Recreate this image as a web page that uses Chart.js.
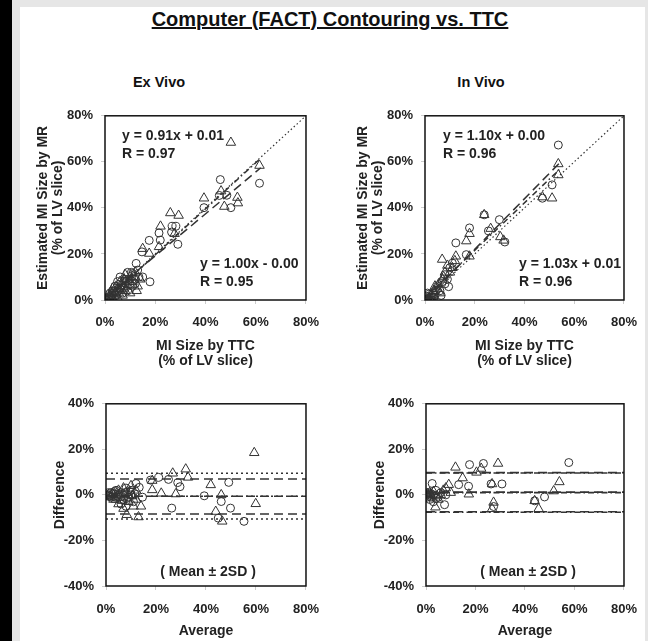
<!DOCTYPE html>
<html>
<head>
<meta charset="utf-8">
<script src="https://cdn.jsdelivr.net/npm/chart.js@4.4.1/dist/chart.umd.min.js"></script>
<style>
    body { margin: 0; width: 648px; height: 641px; background: #e6e6e6; position: relative; overflow: hidden;
           font-family: "Liberation Sans", Arial, sans-serif; }
    #edge { position: absolute; left: 0; top: 0; width: 12px; height: 641px; background: #000; }
    #sheet { position: absolute; left: 20px; top: 7px; width: 625px; height: 634px; background: #fff; }
    canvas { position: absolute; }
    .head { position: absolute; font-weight: bold; color: #111; white-space: nowrap; transform: translateX(-50%); }
    #title { left: 330px; top: 8px; font-size: 20px; text-decoration: underline; }
    #exHead { left: 159px; top: 74px; font-size: 14.5px; }
    #inHead { left: 481px; top: 74px; font-size: 14.5px; }
</style>
</head>
<body>
<div id="edge"></div>
<div id="sheet"></div>
<div class="head" id="title">Computer (FACT) Contouring vs. TTC</div>
<div class="head" id="exHead">Ex Vivo</div>
<div class="head" id="inHead">In Vivo</div>
<canvas id="exFit" width="300" height="275" style="left:30px; top:100px"></canvas>
<canvas id="inFit" width="298" height="275" style="left:350px; top:100px"></canvas>
<canvas id="exDiff" width="300" height="253" style="left:31px; top:388px"></canvas>
<canvas id="inDiff" width="298" height="253" style="left:351px; top:388px"></canvas>

<script>
// MR vs TTC infarct size, [TTC %, MR %]
const exVivoCircles = [
    [45.9, 52.3], [61.5, 50.7], [45.5, 45.4], [39.4, 40.1], [50.1, 40.1], [48.5, 45.5], [26.7, 32.0],
    [28.2, 32.0], [29.0, 24.2], [21.5, 29.1], [17.6, 25.9], [14.7, 20.9], [12.4, 15.9], [17.9, 7.9],
    [11.0, 11.5], [26.5, 29.5], [22.0, 26.0], [9, 12], [8, 9], [10, 7], [6, 5], [5, 8], [7, 3], [4, 4],
    [3, 2], [2, 1], [1, 0.5], [0.5, 0], [12, 9], [13, 13], [9, 4], [6, 10], [4, 6], [3, 4], [11, 6],
    [15, 10], [2, 3], [8, 6], [1.5, 1.5], [2.5, 0.5], [3.5, 3], [4.5, 2], [5.5, 4], [6.5, 6.5],
    [7.5, 5], [8.5, 8], [9.5, 9], [10.5, 12], [12, 7], [13.5, 10]
]
const exVivoTriangles = [
    [50.1, 68.4], [61.5, 58.4], [39.4, 44.2], [46.2, 47.3], [47.5, 40.6], [52.9, 42.1], [52.7, 44.5],
    [26.0, 37.8], [29.3, 36.7], [22.1, 32.0], [21.5, 23.1], [15.0, 22.3], [17.6, 20.2], [27.7, 28.8],
    [12.6, 4.0], [10, 10], [8, 11], [7, 7], [5, 5], [6, 8], [4, 3], [3, 1], [2, 2], [1, 0], [0.5, 0.5],
    [9, 6], [11, 8], [12, 12], [7, 2], [5, 1], [14, 9], [13, 6], [3, 5], [8, 4], [10, 3], [1.5, 1],
    [2.5, 3], [3.5, 2], [4.5, 6], [5.5, 3], [6.5, 5], [7.5, 9], [9.5, 8], [11.5, 10]
]
const inVivoCircles = [
    [53.6, 67.3], [51.1, 50.0], [47.2, 44.2], [29.9, 34.9], [17.9, 31.3], [12.4, 24.8], [16.6, 19.7],
    [32.1, 25.2], [9.5, 5.8], [23.8, 37.0], [25.5, 30.0], [4, 2], [2, 1], [1, 0.5], [6, 4], [7, 8],
    [5, 6], [3, 3], [8, 11], [10, 14], [0.5, 0], [1.5, 2.5], [11, 16], [0.5, 1.5], [1, 3], [2.5, 0],
    [3.5, 1], [4.5, 4], [6.5, 2], [8, 7], [9, 9]
]
const inVivoTriangles = [
    [53.6, 59.1], [53.6, 54.3], [51.1, 44.2], [47.2, 44.7], [23.8, 37.0], [26.4, 31.0], [30.3, 27.4],
    [31.6, 25.9], [17.9, 28.8], [16.6, 25.6], [12.4, 19.0], [6.9, 17.6], [17.9, 19.0], [8, 12], [9, 15],
    [10, 12], [7, 9], [5, 5], [4, 6], [3, 2], [2, 0.5], [1, 1], [6, 3], [11, 14], [12, 17], [0.5, 0],
    [1.5, 0], [2.5, 2], [3.5, 4], [5.5, 7], [7.5, 10]
]

// Bland-Altman, [average %, difference %]
const exVivoDiffCircles = [
    [49.1, 5.5], [39.3, -0.4], [46.1, -2.9], [49.8, -5.8], [44.9, -10.2], [55.2, -11.6], [26.3, -5.8],
    [29.6, 3.6], [28.7, 5.4], [25.0, 6.8], [21.1, 7.7], [17.8, 6.5], [13.3, 3.3], [14.6, -1.0],
    [0.5, 0], [1, 1], [2, -1], [3, 0.5], [4, 2], [5, -1], [6, 1], [7, -2], [8, 3], [9, -1], [10, 2],
    [11, -3], [6, -4], [4, -1], [8, -5], [2, 1], [10, 0], [12, 5], [1.5, -0.5], [3.5, 1.5], [5.5, 0],
    [7.5, 1], [9.5, 1.5], [11.5, 0.5]
]
const exVivoDiffTriangles = [
    [59.3, 18.5], [31.9, 11.3], [32.8, 7.7], [26.7, 9.5], [41.9, 4.4], [46.1, 0], [59.9, -3.9],
    [43.9, -7.3], [46.5, -11.6], [27.9, 0.4], [22.1, 0.7], [18.5, 6.3], [18.5, 2.2], [13.0, -9.7],
    [8.3, -8.7], [1, 0], [2, -1], [3, 1], [4, -2], [5, 2], [6, -1], [7, 3], [8, 1], [9, -3], [10, 4],
    [11, -5], [12, 2], [5, -4], [7, -6], [3, -2], [9, 0], [12, -2], [14, -5], [0.5, -0.5], [2.5, 0.5],
    [4.5, 0], [6.5, -2.5], [8.5, -1.5], [10.5, -0.5]
]
const inVivoDiffCircles = [
    [57.7, 14.2], [23.2, 13.8], [17.6, 13.3], [30.7, 4.8], [26.3, 4.8], [17.2, 3.8], [47.9, -0.9],
    [43.9, -2.6], [2.5, 5.0], [7.5, -4.3], [13.2, 4.5], [27.3, -5.1], [0.5, 0], [1, 1], [2, -1], [3, 0],
    [4, 2], [5, -1], [6, 1], [1.5, -2], [3, -3], [8, 0], [0.5, -1], [1, 0.5], [2, 0.5], [4, -1.5]
]
const inVivoDiffTriangles = [
    [11.9, 12.1], [29.1, 13.8], [22.3, 11.6], [20.4, 9.9], [14.8, 7.4], [26.7, 4.8], [53.9, 5.7],
    [51.6, 1.7], [43.9, -2.6], [45.5, -6.1], [27.3, -3.3], [26.7, -6.1], [17.3, 0.3], [9.2, 4.5],
    [3.8, -5.4], [7, 2], [5, -2], [8, 3], [10, 1], [2, 0], [1, -1], [6, 0], [0.5, 0.5], [1.5, 1],
    [3, 1.5], [4.5, -0.5]
]

// regression fits [slope, intercept as fraction] and correlation
const exVivoFits = [[0.91, 0.01], [1.00, -0.004]]
const exVivoR = [0.97, 0.95]
const inVivoFits = [[1.10, 0.00], [1.03, 0.01]]
const inVivoR = [0.96, 0.96]
const exVivoFitEnd = 62
const inVivoFitEnd = 54

// limits of agreement [mean - 2SD, mean, mean + 2SD]
const exVivoLimitsA = [-8.4, -0.6, 7.0]
const exVivoLimitsB = [-10.6, -0.6, 9.5]
const inVivoLimitsA = [-7.4, 1.2, 9.8]
const inVivoLimitsB = [-7.6, 1.0, 9.6]

const pctTicks = [0, 20, 40, 60, 80]
const diffTicks = [-40, -20, 0, 20, 40]

const FONT = '"Liberation Sans", Arial, sans-serif'
const INK = '#222'
const LONG_DASH = [9, 5]
const DASH_DOT = [6, 3, 1.5, 3]
const DOTS = [2, 3]

function main() {
    buildPanel('exFit', fitPanel(exVivoCircles, exVivoTriangles, exVivoFits, exVivoR, exVivoFitEnd, [17, 95]))
    buildPanel('inFit', fitPanel(inVivoCircles, inVivoTriangles, inVivoFits, inVivoR, inVivoFitEnd, [18, 94]))
    buildPanel('exDiff', diffPanel(exVivoDiffCircles, exVivoDiffTriangles, exVivoLimitsA, exVivoLimitsB, DOTS))
    buildPanel('inDiff', diffPanel(inVivoDiffCircles, inVivoDiffTriangles, inVivoLimitsA, inVivoLimitsB, DASH_DOT))
}

// functions
function fitPanel(circles, triangles, fits, rs, end, noteX) {
    const datasets = [
        segment([{ x: 0, y: 0 }, { x: 80, y: 80 }], [1.5, 2.5], 1.2),
        ...fits.map(([m, b], i) => segment(
            [{ x: 0, y: b * 100 }, { x: end, y: m * end + b * 100 }], i === 0 ? LONG_DASH : DASH_DOT, 1.5)),
        markers(circles, 'circle'),
        markers(triangles, 'triangle')
    ]
    const notes = []
    fits.forEach(([m, b], i) => {
        const sign = b < 0 ? '-' : '+'
        const dy = i === 0 ? 20 : 148
        notes.push({ text: `y = ${m.toFixed(2)}x ${sign} ${Math.abs(b).toFixed(2)}`, dx: noteX[i], dy: dy })
        notes.push({ text: `R = ${rs[i].toFixed(2)}`, dx: noteX[i], dy: dy + 18 })
    })
    return {
        datasets, notes,
        yTicks: pctTicks,
        xTitle: ['MI Size by TTC', '(% of LV slice)'],
        yTitle: ['Estimated MI Size by MR', '(% of LV slice)'],
        xSize: 75, xTitlePad: 6, xTickPad: 11,
        yTitlePad: 5.5,
        padding: { top: 15, right: 18, left: 0, bottom: 0 }
    }
}

function diffPanel(circles, triangles, limitsA, limitsB, dashB) {
    const datasets = [
        ...limitsA.map(v => segment([{ x: 0, y: v }, { x: 80, y: v }], LONG_DASH, 1.6)),
        ...limitsB.map(v => segment([{ x: 0, y: v }, { x: 80, y: v }], dashB, 1.6)),
        markers(circles, 'circle'),
        markers(triangles, 'triangle')
    ]
    return {
        datasets,
        notes: [{ text: '( Mean \u00b1 2SD )', dx: 102, dy: 168, align: 'center' }],
        yTicks: diffTicks,
        xTitle: 'Average',
        yTitle: 'Difference',
        xSize: 55, xTitlePad: 2.5, xTickPad: 12,
        yTitlePad: 21.5,
        padding: { top: 15, right: 18, left: 0, bottom: 0 }
    }
}

function segment(points, dash, width) {
    return {
        data: points, showLine: true, pointRadius: 0,
        borderColor: '#333', borderWidth: width, borderDash: dash
    }
}

function markers(points, style) {
    return {
        data: points.map(([x, y]) => ({ x, y })),
        showLine: false,
        pointStyle: style,
        pointRadius: style === 'circle' ? 4 : 5.5,
        pointBorderColor: '#333',
        pointBorderWidth: 1,
        pointBackgroundColor: 'rgba(255,255,255,0)'
    }
}

function axis(ticks, title, horizontal, size, titlePad, tickPad) {
    return {
        type: 'linear',
        min: ticks[0],
        max: ticks[ticks.length - 1],
        afterBuildTicks: scale => { scale.ticks = ticks.map(value => ({ value })) },
        afterFit: scale => { if (horizontal) scale.height = size; else scale.width = size },
        grid: { drawOnChartArea: false, drawTicks: true, tickLength: 4, color: '#ccc' },
        border: { display: false },
        ticks: {
            autoSkip: false, maxRotation: 0, padding: tickPad, color: INK,
            font: { family: FONT, size: 13, weight: 'bold' },
            callback: v => v + '%'
        },
        title: {
            display: true, text: title, color: INK,
            font: { family: FONT, size: 14, weight: 'bold', lineHeight: 1.07 },
            padding: horizontal ? { top: 0, bottom: titlePad } : { top: titlePad, bottom: 0 }
        }
    }
}

function framePlugin() {
    return {
        id: 'frame',
        afterDatasetsDraw(chart) {
            const { ctx, chartArea: a } = chart
            ctx.save()
            ctx.strokeStyle = '#111'
            ctx.lineWidth = 1.5
            ctx.strokeRect(a.left, a.top, a.right - a.left, a.bottom - a.top)
            ctx.restore()
        }
    }
}

function notesPlugin(items) {
    return {
        id: 'notes',
        afterDraw(chart) {
            const { ctx, chartArea: a } = chart
            ctx.save()
            ctx.font = `bold 14px ${FONT}`
            ctx.fillStyle = INK
            ctx.textBaseline = 'middle'
            for (const n of items) {
                ctx.textAlign = n.align || 'left'
                ctx.fillText(n.text, a.left + n.dx, a.top + n.dy)
            }
            ctx.restore()
        }
    }
}

function buildPanel(canvasId, panel) {
    const ctx = document.getElementById(canvasId)
    new Chart(ctx, {
        type: 'scatter',
        data: { datasets: panel.datasets },
        options: {
            responsive: false,
            animation: false,
            layout: { padding: panel.padding },
            plugins: { legend: { display: false }, tooltip: { enabled: false } },
            scales: {
                x: axis(pctTicks, panel.xTitle, true, panel.xSize, panel.xTitlePad, panel.xTickPad),
                y: axis(panel.yTicks, panel.yTitle, false, 75, panel.yTitlePad, 8)
            }
        },
        plugins: [framePlugin(), notesPlugin(panel.notes)]
    })
}

// listeners
document.addEventListener("DOMContentLoaded", main)
</script>
</body>
</html>
